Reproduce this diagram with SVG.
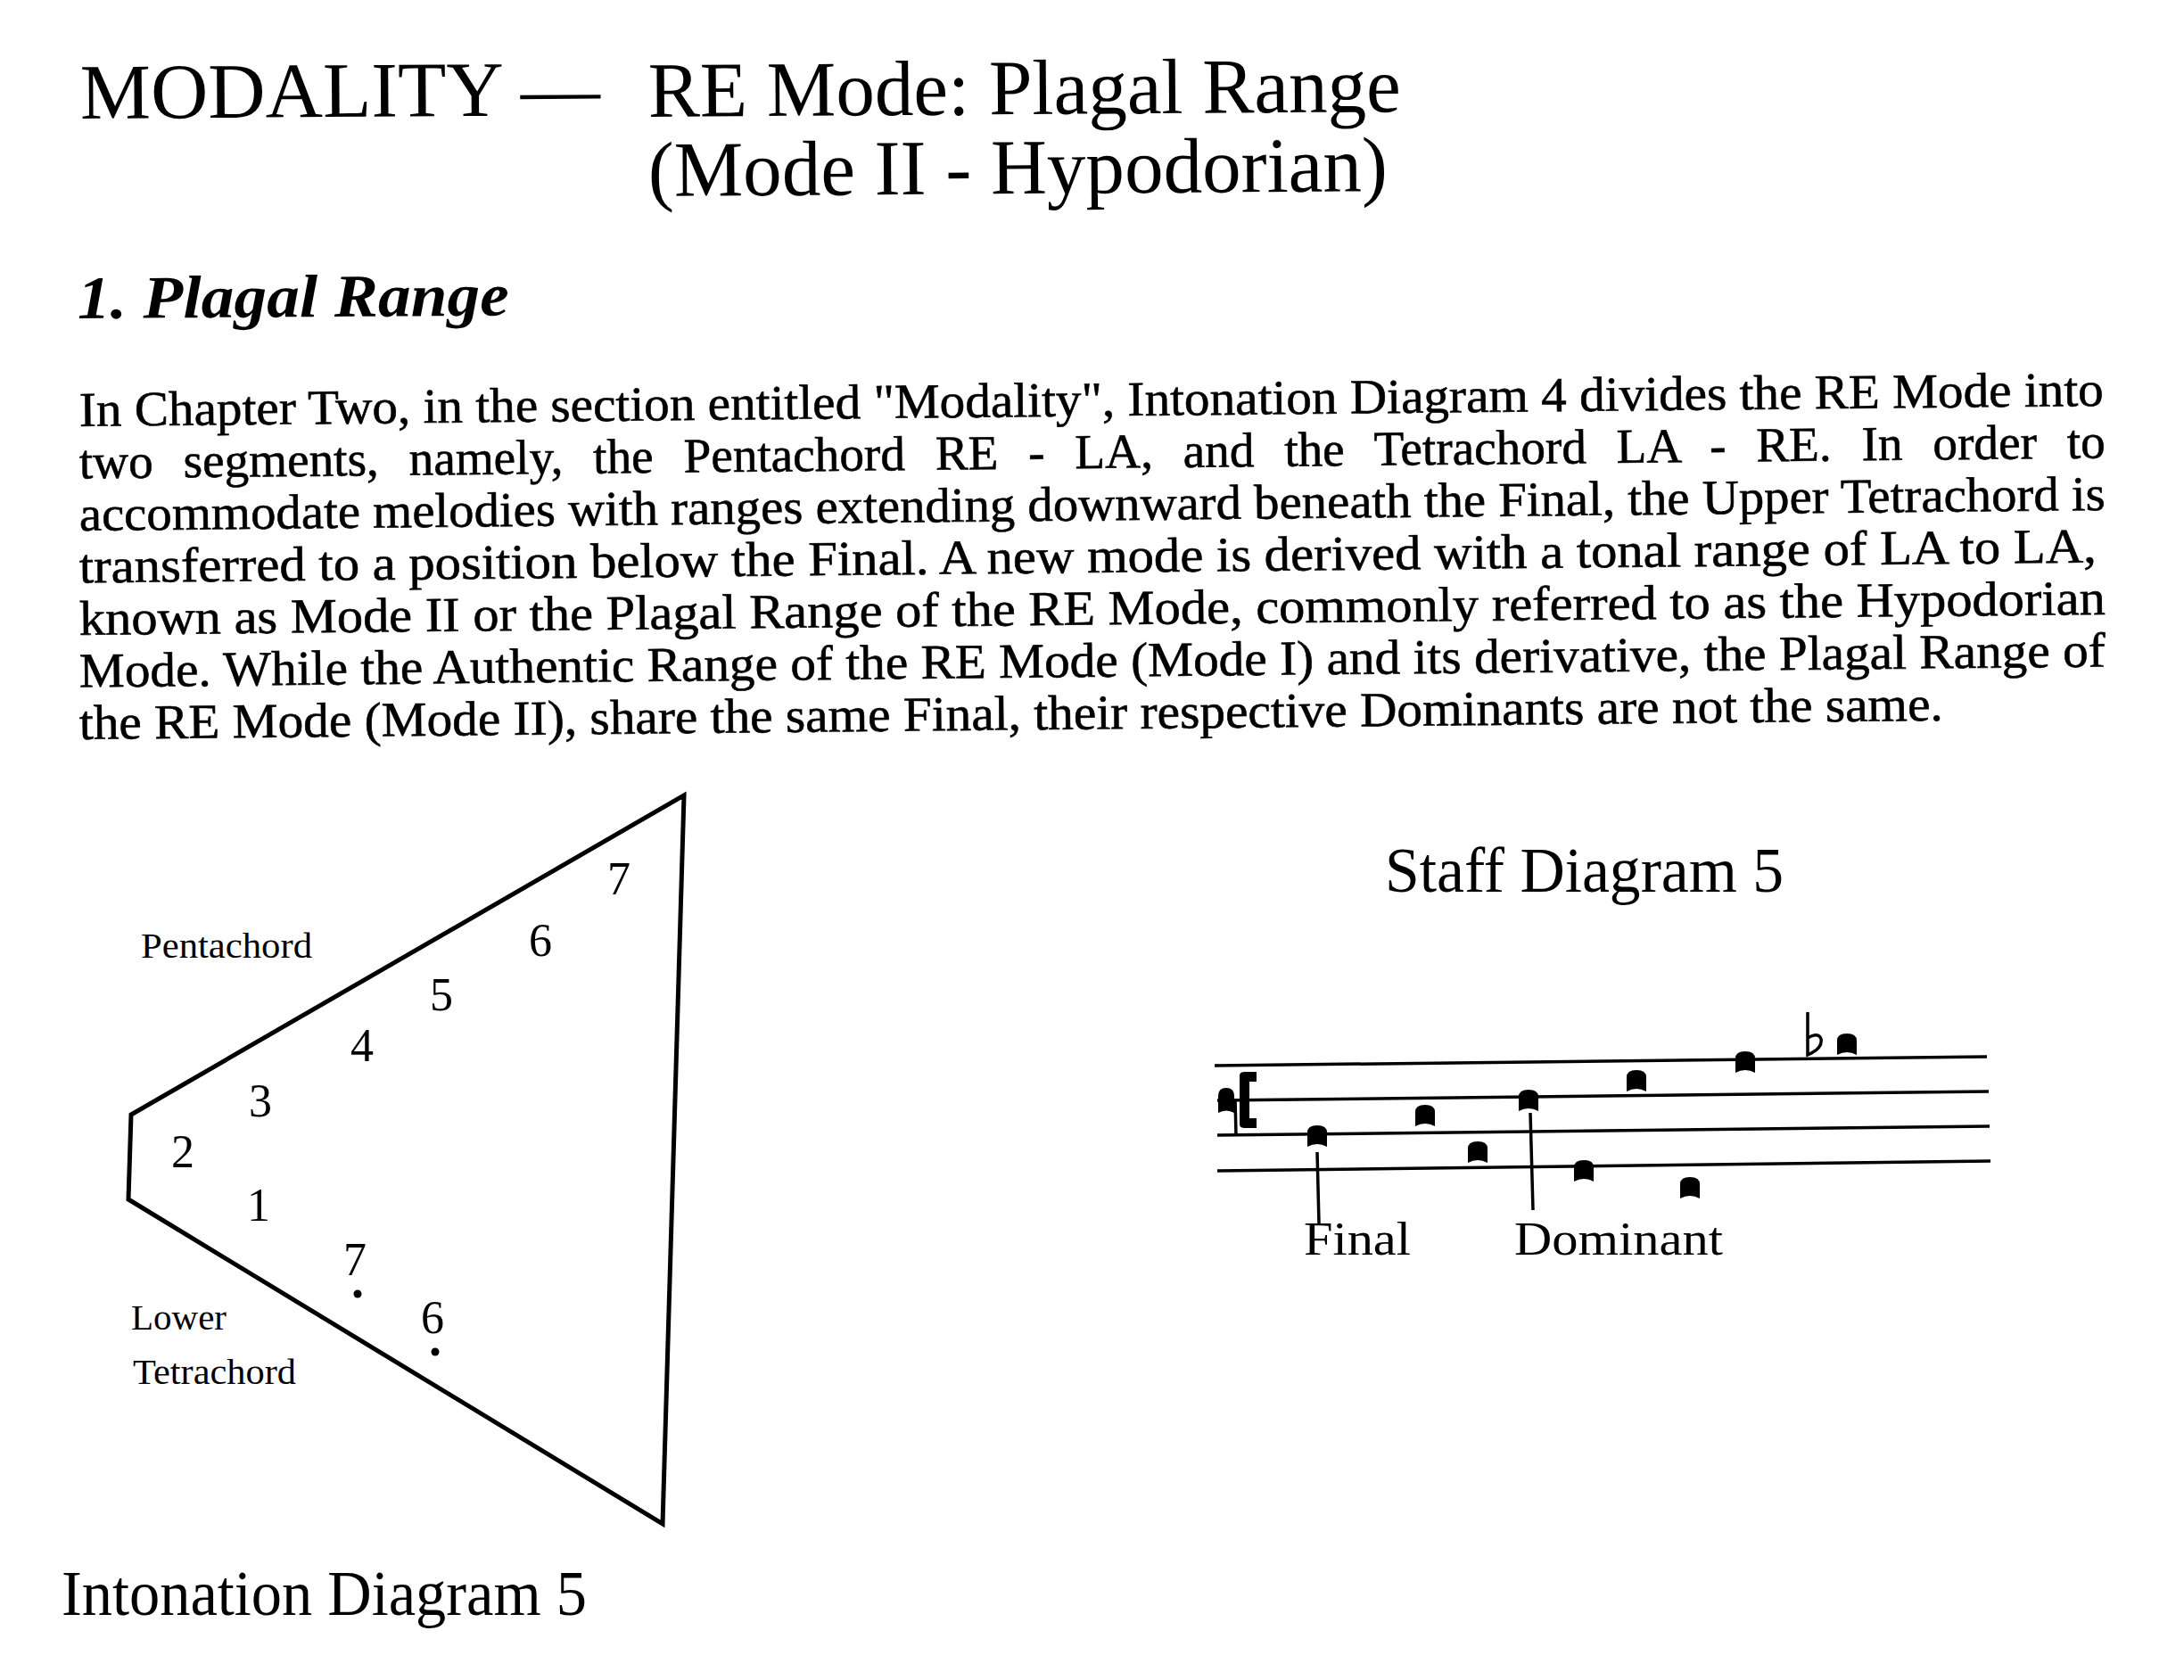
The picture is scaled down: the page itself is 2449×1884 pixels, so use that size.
<svg xmlns="http://www.w3.org/2000/svg" width="2449" height="1884" viewBox="0 0 2449 1884">
<style>
.t{font-family:"Liberation Serif","Times New Roman",serif;fill:#000}
.title{font-size:88px}
.head{font-size:68px;font-weight:bold;font-style:italic}
.body{font-size:55px;stroke:#000;stroke-width:0.6}
.num{font-size:52px}
.lab{font-size:40px}
.cap{font-size:72px}
.slab{font-size:53px}
.staff{stroke:#000;stroke-width:3.5;fill:none}
.edge{stroke:#000;stroke-width:5;fill:none;stroke-linejoin:miter}
.stem{stroke:#000;stroke-width:3.5;fill:none}
</style>
<defs>
<path id="p" d="M-11,12 L-11,-4 Q-11,-12 0,-12 Q11,-12 11,-4 L11,12 Q0,6 -11,12 Z" fill="#000"/>
</defs>
<rect width="2449" height="1884" fill="#fff"/>
<g id="title">
<text class="t title" x="90" y="133" textLength="583" lengthAdjust="spacingAndGlyphs" transform="rotate(-0.4 90 133)">MODALITY —</text>
<text class="t title" x="727" y="131" textLength="844" lengthAdjust="spacingAndGlyphs" transform="rotate(-0.4 727 131)">RE Mode: Plagal Range</text>
<text class="t title" x="727" y="220" textLength="829" lengthAdjust="spacingAndGlyphs" transform="rotate(-0.4 727 220)">(Mode II - Hypodorian)</text>
</g>
<g id="heading">
<text class="t head" x="87" y="357" textLength="484" lengthAdjust="spacingAndGlyphs" transform="rotate(-0.4 87 357)">1. Plagal Range</text>
</g>
<g id="paragraph">
<text class="t body" x="89" y="478" textLength="2270" lengthAdjust="spacingAndGlyphs" transform="rotate(-0.58 89 478)">In Chapter Two, in the section entitled "Modality", Intonation Diagram 4 divides the RE Mode into</text>
<text class="t body" x="89" y="536.5" word-spacing="20" textLength="2272" lengthAdjust="spacingAndGlyphs" transform="rotate(-0.58 89 536.5)">two segments, namely, the Pentachord RE - LA, and the Tetrachord LA - RE. In order to</text>
<text class="t body" x="89" y="595" textLength="2272" lengthAdjust="spacingAndGlyphs" transform="rotate(-0.58 89 595)">accommodate melodies with ranges extending downward beneath the Final, the Upper Tetrachord is</text>
<text class="t body" x="89" y="653.5" textLength="2262" lengthAdjust="spacingAndGlyphs" transform="rotate(-0.58 89 653.5)">transferred to a position below the Final. A new mode is derived with a tonal range of LA to LA,</text>
<text class="t body" x="89" y="712" textLength="2272" lengthAdjust="spacingAndGlyphs" transform="rotate(-0.58 89 712)">known as Mode II or the Plagal Range of the RE Mode, commonly referred to as the Hypodorian</text>
<text class="t body" x="89" y="770.5" textLength="2272" lengthAdjust="spacingAndGlyphs" transform="rotate(-0.58 89 770.5)">Mode. While the Authentic Range of the RE Mode (Mode I) and its derivative, the Plagal Range of</text>
<text class="t body" x="89" y="829" textLength="2090" lengthAdjust="spacingAndGlyphs" transform="rotate(-0.58 89 829)">the RE Mode (Mode II), share the same Final, their respective Dominants are not the same.</text>
</g>
<g id="intonation-diagram">
<polygon class="edge" points="767,892 147,1250 144,1345 743,1709"/>
<text class="t lab" x="158" y="1074" textLength="192" lengthAdjust="spacingAndGlyphs">Pentachord</text>
<text class="t lab" x="147" y="1491" textLength="107" lengthAdjust="spacingAndGlyphs">Lower</text>
<text class="t lab" x="149" y="1552" textLength="183" lengthAdjust="spacingAndGlyphs">Tetrachord</text>
<g text-anchor="middle">
<text class="t num" x="694" y="1003">7</text>
<text class="t num" x="606" y="1072">6</text>
<text class="t num" x="495" y="1133">5</text>
<text class="t num" x="406" y="1190">4</text>
<text class="t num" x="292" y="1252">3</text>
<text class="t num" x="205" y="1309">2</text>
<text class="t num" x="290" y="1369">1</text>
<text class="t num" x="398" y="1430">7</text>
<text class="t num" x="485" y="1495">6</text>
</g>
<circle cx="401" cy="1451" r="4.5"/>
<circle cx="488" cy="1516" r="4.5"/>
<text class="t cap" x="69" y="1811" textLength="589" lengthAdjust="spacingAndGlyphs">Intonation Diagram 5</text>
</g>
<g id="staff-diagram">
<text class="t cap" x="1553" y="1000" textLength="447" lengthAdjust="spacingAndGlyphs">Staff Diagram 5</text>
<line class="staff" x1="1362" y1="1195" x2="2228" y2="1185"/>
<line class="staff" x1="1365" y1="1234" x2="2230" y2="1224"/>
<line class="staff" x1="1365" y1="1273" x2="2231" y2="1263"/>
<line class="staff" x1="1365" y1="1313" x2="2232" y2="1302"/>
<g id="clef">
<path d="M1366,1248 L1366,1229 Q1366,1220 1375,1220 Q1384,1220 1384,1229 L1384,1248 Q1375,1243 1366,1248 Z"/>
<line class="stem" x1="1385" y1="1232" x2="1386" y2="1273"/>
<path d="M1390,1206 Q1390,1202 1396,1202 L1409,1202 L1409,1213 L1401,1213 L1401,1254 L1409,1254 L1409,1265 L1396,1265 Q1390,1265 1390,1261 Z"/>
</g>
<g id="notes">
<use href="#p" x="1477" y="1274"/>
<use href="#p" x="1598" y="1251"/>
<use href="#p" x="1657" y="1292"/>
<use href="#p" x="1714" y="1234"/>
<use href="#p" x="1776" y="1313"/>
<use href="#p" x="1835" y="1212"/>
<use href="#p" x="1895" y="1332"/>
<use href="#p" x="1957" y="1191"/>
<use href="#p" x="2071" y="1171"/>
</g>
<path class="stem" stroke-width="4" d="M2027,1135 L2027,1183 Q2044,1176 2042,1165 Q2039,1157 2027,1164"/>
<text class="t slab" x="1462" y="1407" textLength="120" lengthAdjust="spacingAndGlyphs">Final</text>
<text class="t slab" x="1698" y="1407" textLength="234" lengthAdjust="spacingAndGlyphs">Dominant</text>
</g>
<g id="connectors">
<line class="stem" x1="1477" y1="1292" x2="1479" y2="1372"/>
<line class="stem" x1="1716" y1="1248" x2="1719" y2="1357"/>
</g>
</svg>
